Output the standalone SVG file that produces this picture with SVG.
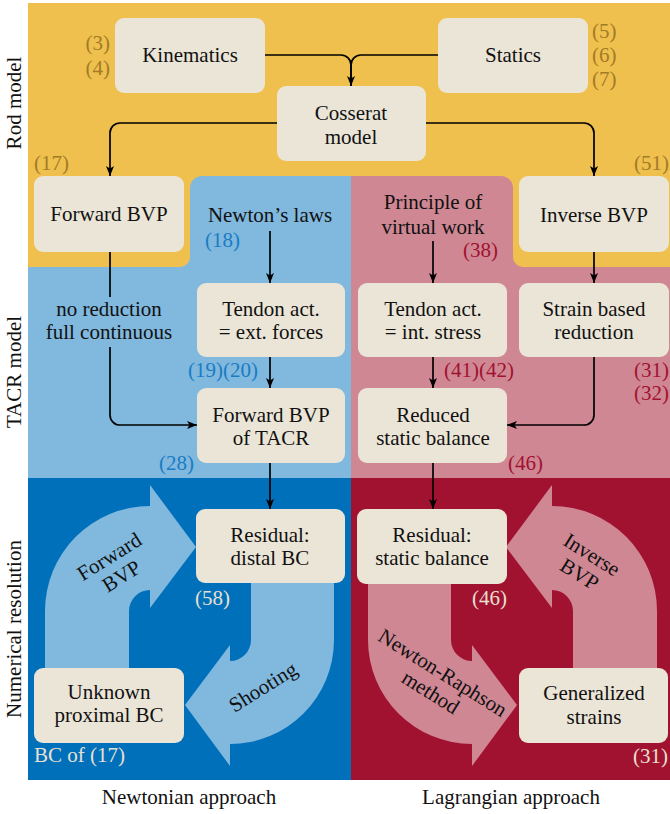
<svg xmlns="http://www.w3.org/2000/svg" width="670" height="814" viewBox="0 0 670 814">
<defs>
<style>
.node rect{fill:#ebe5d7}
.conn path{fill:none;stroke:#000;stroke-width:1.7}
</style>
<marker id="ah" viewBox="0 0 10 8" refX="10" refY="4" markerWidth="10" markerHeight="8" markerUnits="userSpaceOnUse" orient="auto"><path d="M0,0 L10,4 L0,8 L2.5,4 Z" fill="#000"/></marker>
</defs>
<g id="background">
<rect x="28" y="176" width="323" height="302" fill="#80b8de"/>
<rect x="351" y="176" width="319" height="302" fill="#d08794"/>
<path d="M28,3 H670 V267 H523 A10,10 0 0 1 513,257 V188 A12,12 0 0 0 501,176 H202 A12,12 0 0 0 190,188 V257 A10,10 0 0 1 180,267 H28 Z" fill="#f0c04e"/>
<rect x="28" y="478" width="323" height="302" fill="#0070bb"/>
<rect x="351" y="478" width="319" height="302" fill="#a11230"/>
</g>
<g id="big-arrows" font-family="Liberation Serif, serif" font-size="21" fill="#111" text-anchor="middle">
<path d="M45,668 V611 A105,105 0 0 1 150,506 V485 L196,547 L150,608 V590 A21,21 0 0 0 129,611 V668 Z" fill="#80b8de"/>
<path d="M251,583 V640 A21,21 0 0 1 230,661 V645 L185,705 L230,766 V744 A104,104 0 0 0 334,640 V583 Z" fill="#80b8de"/>
<path d="M657,668 V611 A105,105 0 0 0 552,506 V485 L506,547 L552,608 V590 A21,21 0 0 1 573,611 V668 Z" fill="#d08794"/>
<path d="M451,583 V640 A21,21 0 0 0 472,661 V645 L517,705 L472,766 V744 A104,104 0 0 1 368,640 V583 Z" fill="#d08794"/>
<g transform="translate(115,566) rotate(-32)"><text x="0" y="-4">Forward</text><text x="0" y="19">BVP</text></g>
<g transform="translate(263,687) rotate(-32)"><text x="0" y="7">Shooting</text></g>
<g transform="translate(586,564) rotate(32)"><text x="0" y="-4">Inverse</text><text x="0" y="19">BVP</text></g>
<g transform="translate(437,682) rotate(32)"><text x="0" y="-4">Newton-Raphson</text><text x="0" y="19">method</text></g>
</g>
<g id="connectors" class="conn">
<path d="M265,55 H341 A10,10 0 0 1 351,65 V86" marker-end="url(#ah)"/>
<path d="M438,55 H361 A10,10 0 0 0 351,65 V86"/>
<path d="M277,123 H120 A10,10 0 0 0 110,133 V176" marker-end="url(#ah)"/>
<path d="M426,123 H584 A10,10 0 0 1 594,133 V176" marker-end="url(#ah)"/>
<path d="M110,252 V415 A10,10 0 0 0 120,425 H197" marker-end="url(#ah)"/>
<path d="M594,357 V415 A10,10 0 0 1 584,425 H507" marker-end="url(#ah)"/>
<path d="M270,231 V283" marker-end="url(#ah)"/>
<path d="M433,241 V283" marker-end="url(#ah)"/>
<path d="M594,252 V283" marker-end="url(#ah)"/>
<path d="M270,357 V388" marker-end="url(#ah)"/>
<path d="M433,357 V388" marker-end="url(#ah)"/>
<path d="M270,463 V509" marker-end="url(#ah)"/>
<path d="M433,463 V509" marker-end="url(#ah)"/>
</g>
<g font-family="Liberation Serif, serif" font-size="21" fill="#111" text-anchor="middle">
<g id="no-reduction">
<rect x="40" y="297" width="138" height="50" fill="#80b8de"/>
<text x="109" y="316">no reduction</text>
<text x="109" y="339">full continuous</text>
</g>
<g id="kinematics" class="node"><rect x="115" y="18" width="150" height="75" rx="9"/><text x="190" y="62">Kinematics</text></g>
<g id="statics" class="node"><rect x="438" y="18" width="150" height="75" rx="9"/><text x="513" y="62">Statics</text></g>
<g id="cosserat" class="node"><rect x="277" y="86" width="149" height="75" rx="9"/><text x="351" y="120">Cosserat</text><text x="351" y="144">model</text></g>
<g id="forward-bvp" class="node"><rect x="34" y="176" width="150" height="76" rx="9"/><text x="109" y="221">Forward BVP</text></g>
<g id="newtons-laws"><text x="270" y="222">Newton’s laws</text></g>
<g id="virtual-work"><text x="433" y="209">Principle of</text><text x="433" y="234">virtual work</text></g>
<g id="inverse-bvp" class="node"><rect x="519" y="176" width="150" height="76" rx="9"/><text x="594" y="222">Inverse BVP</text></g>
<g id="tendon-ext" class="node"><rect x="197" y="283" width="148" height="74" rx="9"/><text x="271" y="316">Tendon act.</text><text x="271" y="339">= ext. forces</text></g>
<g id="tendon-int" class="node"><rect x="358" y="283" width="149" height="74" rx="9"/><text x="433" y="316">Tendon act.</text><text x="433" y="339">= int. stress</text></g>
<g id="strain-reduction" class="node"><rect x="519" y="283" width="150" height="74" rx="9"/><text x="594" y="316">Strain based</text><text x="594" y="339">reduction</text></g>
<g id="forward-tacr" class="node"><rect x="197" y="388" width="148" height="75" rx="9"/><text x="271" y="422">Forward BVP</text><text x="271" y="445">of TACR</text></g>
<g id="reduced-balance" class="node"><rect x="358" y="388" width="149" height="75" rx="9"/><text x="433" y="422">Reduced</text><text x="433" y="445">static balance</text></g>
<g id="residual-distal" class="node"><rect x="196" y="509" width="149" height="74" rx="9"/><text x="270" y="542">Residual:</text><text x="270" y="565">distal BC</text></g>
<g id="residual-static" class="node"><rect x="357" y="509" width="150" height="75" rx="9"/><text x="432" y="542">Residual:</text><text x="432" y="565">static balance</text></g>
<g id="unknown-bc" class="node"><rect x="34" y="668" width="150" height="75" rx="9"/><text x="109" y="699">Unknown</text><text x="109" y="722">proximal BC</text></g>
<g id="generalized-strains" class="node"><rect x="519" y="668" width="149" height="75" rx="9"/><text x="594" y="700">Generalized</text><text x="594" y="724">strains</text></g>
<g id="row-labels">
<text transform="translate(21,103) rotate(-90)">Rod model</text>
<text transform="translate(21,372) rotate(-90)">TACR model</text>
<text transform="translate(21,629) rotate(-90)">Numerical resolution</text>
<text x="189" y="804">Newtonian approach</text>
<text x="511" y="804">Lagrangian approach</text>
</g>
</g>
<g id="labels" font-family="Liberation Serif, serif" font-size="21">
<g fill="#a07c26">
<text x="110" y="50" text-anchor="end">(3)</text>
<text x="110" y="75" text-anchor="end">(4)</text>
<text x="592" y="38">(5)</text>
<text x="592" y="62">(6)</text>
<text x="592" y="86">(7)</text>
<text x="34" y="170">(17)</text>
<text x="669" y="170" text-anchor="end">(51)</text>
</g>
<g fill="#1a7cc4">
<text x="205" y="247">(18)</text>
<text x="258" y="377" text-anchor="end">(19)(20)</text>
<text x="194" y="470" text-anchor="end">(28)</text>
</g>
<g fill="#a11230">
<text x="498" y="257" text-anchor="end">(38)</text>
<text x="444" y="377">(41)(42)</text>
<text x="669" y="377" text-anchor="end">(31)</text>
<text x="669" y="400" text-anchor="end">(32)</text>
<text x="508" y="470">(46)</text>
</g>
<g fill="#e8e0d0">
<text x="195" y="605">(58)</text>
<text x="507" y="605" text-anchor="end">(46)</text>
<text x="34" y="762">BC of (17)</text>
<text x="668" y="763" text-anchor="end">(31)</text>
</g>
</g>
</svg>
